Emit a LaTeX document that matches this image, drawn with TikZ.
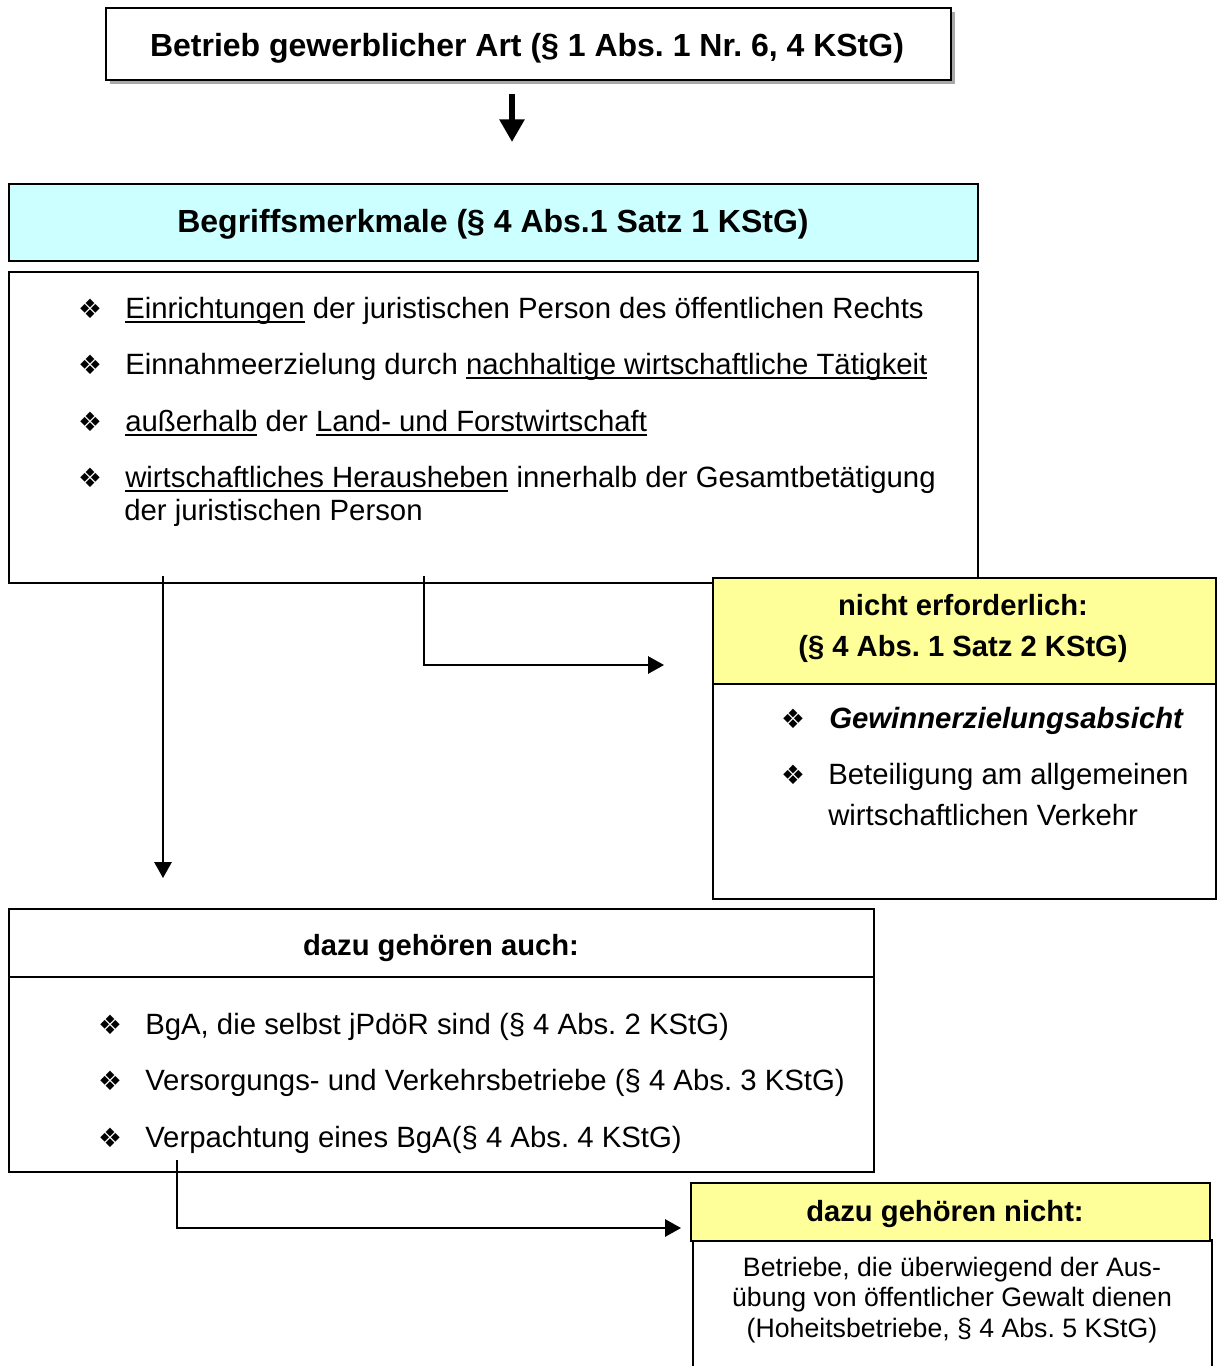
\documentclass[tikz,border=0pt]{standalone}
\usepackage{fontspec}
\setmainfont{Liberation Sans}
\newfontfamily\symfont{DejaVu Sans}
\usetikzlibrary{arrows.meta}
\definecolor{cyanfill}{HTML}{CCFFFF}
\definecolor{yellowfill}{HTML}{FFFF99}
\definecolor{shadowgray}{HTML}{A8A8A8}
\frenchspacing
\newcommand{\titlefont}{\fontsize{24}{28}\selectfont\bfseries}
\newcommand{\headfont}{\fontsize{21.9}{26}\selectfont\bfseries}
\newcommand{\bodyfont}{\fontsize{22}{26}\selectfont}
\newcommand{\smallbody}{\fontsize{20}{24}\selectfont}
\newcommand{\bul}{{\symfont\fontsize{20}{24}\selectfont ❖}}
% underline at a fixed depth, crossing descenders
\newsavebox{\ulbox}
\newcommand{\uln}[1]{\sbox{\ulbox}{#1}\rlap{\rule[-4pt]{\wd\ulbox}{1.4pt}}\usebox{\ulbox}}

\begin{document}
\begin{tikzpicture}[x=0.75pt,y=-0.75pt,
  box/.style={draw, line width=1.5pt, anchor=north west, inner sep=0pt, fill=white},
  title/.style={font=\titlefont, anchor=base},
  head/.style={font=\headfont, anchor=base},
  item/.style={font=\bodyfont, anchor=base west, inner sep=0pt},
  bulletmark/.style={anchor=base, inner sep=0pt},
  note/.style={font=\smallbody, anchor=base, inner sep=0pt},
  link/.style={line width=1.5pt, -{Triangle[width=13pt,length=12pt]}},
  bigarrow/.style={line width=5pt, -{Triangle[width=18pt,length=17pt]}}]
\useasboundingbox (0,0) rectangle (1221,1366);

% top box with drop shadow
\fill[shadowgray] (110,12) rectangle (955,84);
\node[box, minimum width=633.75pt, minimum height=54pt] (bga) at (105,7) {};
\node[title] (bgaT) at (527,57) {Betrieb gewerblicher Art (§ 1 Abs. 1 Nr. 6, 4 KStG)};

% arrow down
\coordinate (a1s) at (512,94);
\coordinate (a1e) at (512,142);
\draw[bigarrow] (a1s) -- (a1e);

% Begriffsmerkmale header
\node[box, fill=cyanfill, minimum width=726.75pt, minimum height=57.75pt] (bm) at (8,183) {};
\node[title] (bmT) at (493,232) {Begriffsmerkmale (§ 4 Abs.1 Satz 1 KStG)};

% list of characteristics
\node[box, minimum width=726.75pt, minimum height=233.25pt] (mk) at (8,271) {};
\node[bulletmark] (m1) at (90,318) {\bul};
\node[item] (t1) at (125,318) {\uln{Einrichtungen} der juristischen Person des öffentlichen Rechts};
\node[bulletmark] (m2) at (90,374) {\bul};
\node[item] (t2) at (125,374) {Einnahmeerzielung durch \uln{nachhaltige wirtschaftliche Tätigkeit}};
\node[bulletmark] (m3) at (90,431) {\bul};
\node[item] (t3) at (125,431) {\uln{außerhalb} der \uln{Land- und Forstwirtschaft}};
\node[bulletmark] (m4) at (90,487) {\bul};
\node[item] (t4) at (125,487) {\uln{wirtschaftliches Herausheben} innerhalb der Gesamtbetätigung};
\node[item] (t5) at (124,520) {der juristischen Person};

% connectors out of the list
\coordinate (c1s) at (163,576);
\coordinate (c1e) at (163,878);
\coordinate (c2s) at (424,576);
\coordinate (c2e) at (664,665);
\coordinate (c3s) at (177,1160);
\coordinate (c3e) at (681,1228);

% not required box
\node[box, minimum width=377.25pt, minimum height=161.25pt] (neB) at (712,683) {};
\node[box, fill=yellowfill, minimum width=377.25pt, minimum height=79.5pt] (neH) at (712,577) {};
\node[head] (neT1) at (963,615) {nicht erforderlich:};
\node[head] (neT2) at (963,656) {(§ 4 Abs. 1 Satz 2 KStG)};
\node[bulletmark] (n1) at (793,728) {\bul};
\node[item] (u1) at (829,728) {\bfseries\itshape Gewinnerzielungsabsicht};
\node[bulletmark] (n2) at (793,784) {\bul};
\node[item] (u2) at (828,784) {Beteiligung am allgemeinen};
\node[item] (u3) at (828,825) {wirtschaftlichen Verkehr};

\draw[link] (c1s) -- (c1e);
\draw[link] (c2s) |- (c2e);

% also included box
\node[box, minimum width=648.75pt, minimum height=197.25pt] (au) at (8,908) {};
\draw[line width=1.5pt] (8,977) coordinate (auL) -- (873,977) coordinate (auR);
\node[head] (auT) at (441,955) {dazu gehören auch:};
\node[bulletmark] (p1) at (110,1034) {\bul};
\node[item] (v1) at (145,1034) {BgA, die selbst jPdöR sind (§ 4 Abs. 2 KStG)};
\node[bulletmark] (p2) at (110,1090) {\bul};
\node[item] (v2) at (145,1090) {Versorgungs- und Verkehrsbetriebe (§ 4 Abs. 3 KStG)};
\node[bulletmark] (p3) at (110,1147) {\bul};
\node[item] (v3) at (145,1147) {Verpachtung eines BgA(§ 4 Abs. 4 KStG)};

\draw[link] (c3s) |- (c3e);

% not included box (open at the bottom)
\node[inner sep=0pt, anchor=north west, minimum width=388.5pt, minimum height=100pt] (niB) at (693,1240) {};
\draw[line width=1.5pt] (niB.south west) -- (niB.north west) -- (niB.north east) -- (niB.south east);
\node[box, fill=yellowfill, minimum width=389.25pt, minimum height=43.5pt] (niH) at (690,1182) {};
\node[head] (niT) at (945,1221) {dazu gehören nicht:};
\node[note] (w1) at (952,1276) {Betriebe, die überwiegend der Aus-};
\node[note] (w2) at (952,1306) {übung von öffentlicher Gewalt dienen};
\node[note] (w3) at (952,1337) {(Hoheitsbetriebe, § 4 Abs. 5 KStG)};
\end{tikzpicture}
\end{document}
